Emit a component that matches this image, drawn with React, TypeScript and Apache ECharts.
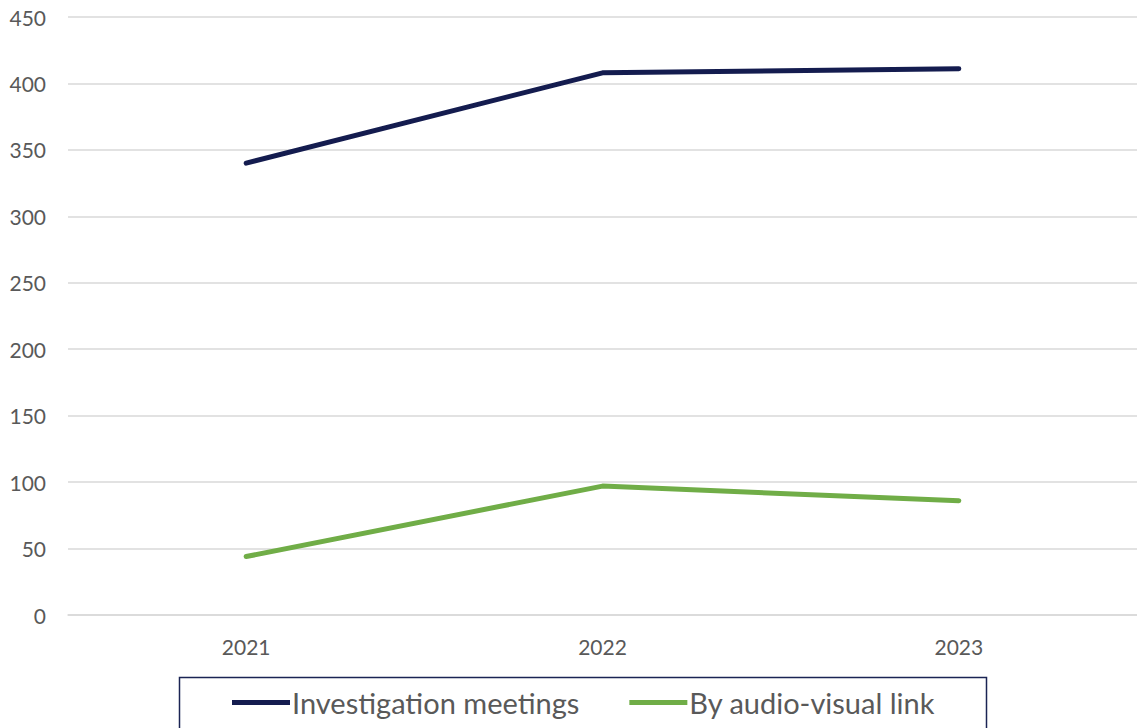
import React, { useEffect, useRef } from "react";
import * as echarts from "echarts";

const years = ["2021", "2022", "2023"];
const investigationMeetings = [340, 408, 411];
const audioVisualLink = [44, 97, 86];
const seriesNames = ["Investigation meetings", "By audio-visual link"];

export default function App() {
  const ref = useRef<HTMLDivElement>(null);
  useEffect(() => {
    document.body.style.margin = "0";
    const chart = echarts.init(ref.current!, null, { renderer: "svg" });
    const font = "Lato";
    chart.setOption({
      animation: false,
      textStyle: { fontFamily: font },
      grid: { left: 68, top: 17, width: 1071, height: 598, containLabel: false },
      xAxis: {
        type: "category",
        data: years,
        boundaryGap: true,
        axisLine: { show: true, lineStyle: { color: "#d9d9d9", width: 1.5 } },
        axisTick: { show: false },
        axisLabel: { color: "#595959", fontSize: 21, fontFamily: font, margin: 21 },
      },
      yAxis: {
        type: "value",
        min: 0,
        max: 450,
        interval: 50,
        axisLine: { show: false },
        axisTick: { show: false },
        splitLine: { lineStyle: { color: "#d9d9d9", width: 1.5 } },
        axisLabel: { color: "#595959", fontSize: 21, fontFamily: font, margin: 22 },
      },
      legend: {
        left: 227,
        top: 683,
        itemWidth: 58,
        itemHeight: 5,
        itemGap: 50,
        icon: "rect",
        textStyle: { color: "#595959", fontSize: 29, fontFamily: font, padding: [0, 0, 0, -3] },
        data: seriesNames,
      },
      graphic: [
        {
          type: "rect",
          left: 177,
          top: 675,
          shape: { width: 807, height: 70 },
          style: { fill: "none", stroke: "#1b2454", lineWidth: 1.5 },
        },
      ],
      series: [
        {
          name: seriesNames[0],
          type: "line",
          data: investigationMeetings,
          symbol: "none",
          lineStyle: { color: "#141c4f", width: 5, cap: "round", join: "round" },
          itemStyle: { color: "#141c4f" },
        },
        {
          name: seriesNames[1],
          type: "line",
          data: audioVisualLink,
          symbol: "none",
          lineStyle: { color: "#70ad47", width: 5, cap: "round", join: "round" },
          itemStyle: { color: "#70ad47" },
        },
      ],
    });
    return () => chart.dispose();
  }, []);
  return <div ref={ref} style={{ width: 1137, height: 728 }} />;
}
